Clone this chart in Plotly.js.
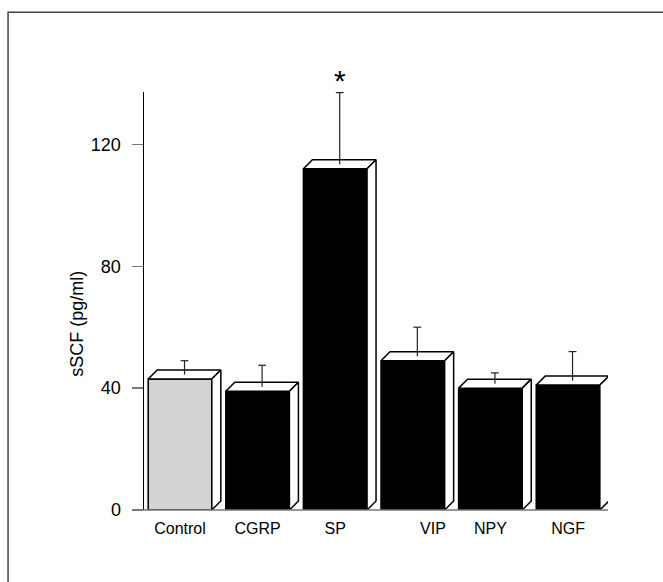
<!DOCTYPE html>
<html>
<head>
<meta charset="utf-8">
<script src="https://cdn.plot.ly/plotly-3.0.1.min.js"></script>
<style>html,body{margin:0;padding:0;background:#fff;}#chart{width:663px;height:582px;}</style>
</head>
<body>
<div id="chart"></div>
<script>
// Data
const categories = ['Control', 'CGRP', 'SP', 'VIP', 'NPY', 'NGF'];
const means = [43, 39, 112, 49, 40, 41];
const sem = [6, 8.5, 25, 11, 5, 11];
const barColors = ['#d3d3d3', '#000000', '#000000', '#000000', '#000000', '#000000'];
const labelPos = [0, 1, 2, 3.26, 4, 5];
const yTicks = [0, 40, 80, 120];
const yTitle = 'sSCF (pg/ml)';
const significant = [false, false, true, false, false, false];

const xs = categories.map((c, i) => i);
const W = 0.82, DX = 0.116, DY = 2.95, CAP = 0.05;

const traces = [];
traces.push({
  type: 'bar', x: xs, y: means, width: W,
  marker: {color: barColors, line: {color: '#000', width: 1.5}},
  hoverinfo: 'skip', showlegend: false
});
xs.forEach((x, i) => {
  const v = means[i], x0 = x - W / 2, x1 = x + W / 2;
  traces.push({
    type: 'scatter', mode: 'lines', fill: 'toself', fillcolor: '#fff',
    x: [x0, x0 + DX, x1 + DX, x1, x0], y: [v, v + DY, v + DY, v, v],
    line: {color: '#000', width: 1.5}, hoverinfo: 'skip', showlegend: false
  });
  traces.push({
    type: 'scatter', mode: 'lines', fill: 'toself', fillcolor: '#fff',
    x: [x1, x1 + DX, x1 + DX, x1, x1], y: [v, v + DY, DY, 0, v],
    line: {color: '#000', width: 1.5}, hoverinfo: 'skip', showlegend: false
  });
});
// error bars: upward only, from the top face to mean + sem, with a cap
const ex = [], ey = [];
xs.forEach((x, i) => {
  const cx = x + DX / 2, top = means[i] + sem[i];
  ex.push(cx, cx, null, cx - CAP, cx + CAP, null);
  ey.push(means[i] + DY / 2, top, null, top, top, null);
});
traces.push({
  type: 'scatter', mode: 'lines', x: ex, y: ey,
  line: {color: '#222', width: 1.2}, cliponaxis: false,
  hoverinfo: 'skip', showlegend: false
});

const annotations = [{
  x: -0.145, y: 61, xref: 'paper', yref: 'y', text: yTitle, textangle: -90,
  showarrow: false, xanchor: 'center', yanchor: 'middle',
  font: {size: 18, color: '#000'}
}];
xs.forEach((x, i) => {
  if (significant[i]) annotations.push({
    x: x + DX / 2, y: means[i] + sem[i], xref: 'x', yref: 'y', text: '*',
    showarrow: false, yanchor: 'bottom', yshift: -6,
    font: {size: 30, color: '#000', family: 'Liberation Sans, Arial, sans-serif'}
  });
});

const layout = {
  width: 663, height: 582,
  margin: {l: 144, r: 55, t: 92, b: 72},
  paper_bgcolor: '#fff', plot_bgcolor: '#fff',
  font: {family: 'Liberation Sans, Arial, Helvetica, sans-serif', color: '#000'},
  showlegend: false,
  xaxis: {
    range: [-0.464, 5.515], showgrid: false, zeroline: false, showline: false,
    tickvals: labelPos, ticktext: categories, ticks: '', tickfont: {size: 16},
    ticklabelstandoff: 7
  },
  yaxis: {
    range: [0, 137.2], tickvals: yTicks, ticks: 'outside', ticklen: 11, tickwidth: 1.5,
    tickcolor: '#777', showline: true, linecolor: '#000', linewidth: 1.5,
    showgrid: false, zeroline: false, tickfont: {size: 18}, ticklabelstandoff: 7
  },
  shapes: [
    {type: 'line', xref: 'paper', yref: 'paper', x0: -0.0237, x1: 1, y0: 0, y1: 0,
     line: {color: '#777', width: 1.5}},
    {type: 'path', xref: 'paper', yref: 'paper',
     path: 'M -0.293 -0.2 L -0.293 1.191 L 1.2 1.191',
     line: {color: '#444', width: 1.5}}
  ],
  annotations: annotations
};

Plotly.newPlot('chart', traces, layout, {staticPlot: true});
</script>
</body>
</html>
